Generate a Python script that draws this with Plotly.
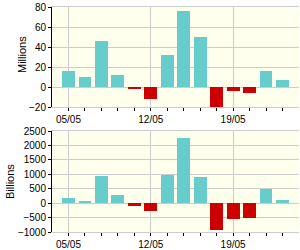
import plotly.graph_objects as go

dates = ["05/05", "06/05", "07/05", "08/05", "09/05", "12/05", "13/05",
         "14/05", "15/05", "16/05", "19/05", "20/05", "21/05", "22/05"]
millions = [15.7, 9.7, 45.7, 11.7, -1.7, -11.5, 32.3, 76.3, 50.3, -21, -3.7, -5.7, 16.3, 7.3]
billions = [163, 82, 933, 268, -93, -268, 980, 2252, 910, -945, -560, -525, 502, 117]
weekly_labels = ["05/05", "12/05", "19/05"]

POS = "#66CCCC"
NEG = "#CC0000"
GRID = "#CCCCCC"
BG = "#FFFFEE"
FONT = "Liberation Sans, Arial, sans-serif"

idx = list(range(len(dates)))
label_pos = [dates.index(d) for d in weekly_labels]

fig = go.Figure()
fig.add_trace(go.Bar(x=idx, y=millions, width=0.78,
                     marker=dict(color=[POS if v >= 0 else NEG for v in millions], line=dict(width=0)),
                     xaxis="x", yaxis="y", showlegend=False, hoverinfo="skip"))
fig.add_trace(go.Bar(x=idx, y=billions, width=0.78,
                     marker=dict(color=[POS if v >= 0 else NEG for v in billions], line=dict(width=0)),
                     xaxis="x2", yaxis="y2", showlegend=False, hoverinfo="skip"))

xdom = [52 / 300, 299 / 300]
xcommon = dict(
    domain=xdom, range=[-1, 14], tickmode="array", tickvals=label_pos, ticktext=weekly_labels,
    showgrid=True, gridcolor=GRID, gridwidth=1, zeroline=False, automargin=False,
    ticks="outside", ticklen=3, tickcolor="#000000", tickwidth=1,
    showline=True, linecolor=GRID, linewidth=1, mirror=True,
    tickfont=dict(family=FONT, size=10, color="#000000"),
    minor=dict(tickmode="array", tickvals=idx, ticks="outside", ticklen=3,
               tickcolor="#000000", tickwidth=1, showgrid=False),
    fixedrange=True,
)
ycommon = dict(
    showgrid=True, gridcolor=GRID, gridwidth=1, zeroline=False, automargin=False,
    ticks="outside", ticklen=3, tickcolor="#000000", tickwidth=1,
    showline=True, linecolor="#000000", linewidth=1,
    tickfont=dict(family=FONT, size=10, color="#000000"),
    fixedrange=True,
)

fig.update_layout(
    width=300, height=250,
    margin=dict(l=0, r=0, t=0, b=0, autoexpand=False),
    paper_bgcolor="#FFFFFF", plot_bgcolor=BG,
    bargap=0,
    xaxis=dict(**xcommon, anchor="y"),
    xaxis2=dict(**xcommon, anchor="y2"),
    yaxis=dict(**ycommon, domain=[(250 - 107) / 250, (250 - 7) / 250], range=[-20, 80],
               tickvals=[-20, 0, 20, 40, 60, 80], anchor="x"),
    yaxis2=dict(**ycommon, domain=[(250 - 232) / 250, (250 - 131) / 250], range=[-1000, 2500],
                tickvals=[-1000, -500, 0, 500, 1000, 1500, 2000, 2500], anchor="x2"),
    annotations=[
        dict(text="Millions", x=22 / 300, y=(250 - 55) / 250, xref="paper", yref="paper",
             textangle=-90, showarrow=False, font=dict(family=FONT, size=11, color="#000000"),
             xanchor="center", yanchor="middle"),
        dict(text="Billions", x=10 / 300, y=(250 - 182) / 250, xref="paper", yref="paper",
             textangle=-90, showarrow=False, font=dict(family=FONT, size=11, color="#000000"),
             xanchor="center", yanchor="middle"),
    ],
)

fig.write_html("out.html")
